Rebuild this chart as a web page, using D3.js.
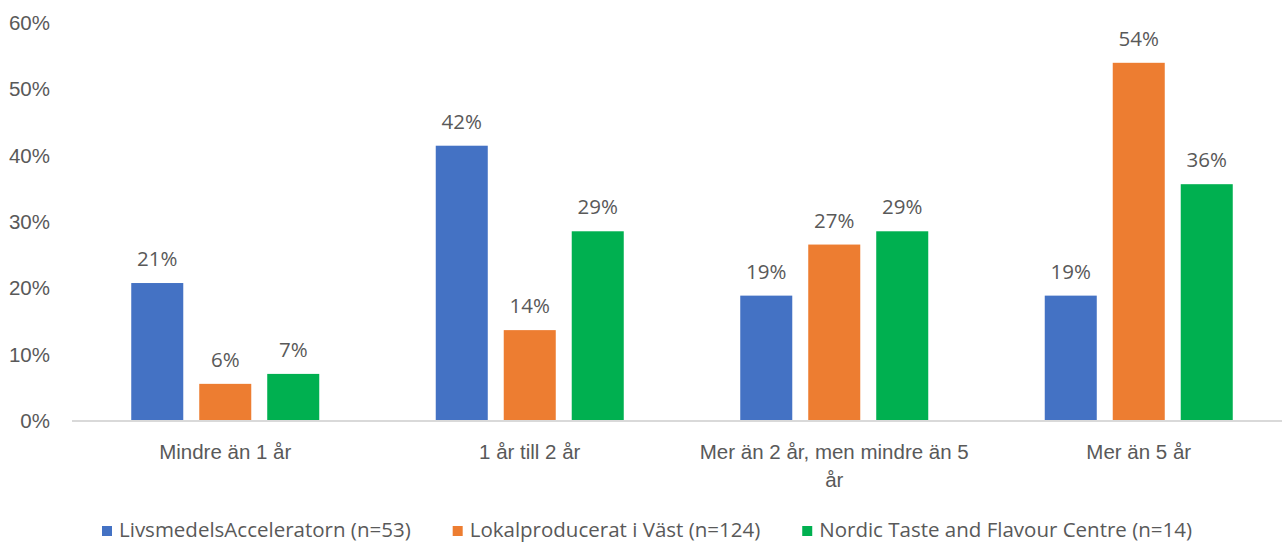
<!DOCTYPE html>
<html><head><meta charset="utf-8">
<script src="https://cdn.jsdelivr.net/npm/d3@7/dist/d3.min.js"></script>
<style>
body{margin:0;background:#fff;}
svg{display:block;font-family:"Open Sans",Lato,sans-serif;}
</style></head>
<body><svg id="c" width="1282" height="544"></svg>
<script>
const categories = ["Mindre än 1 år","1 år till 2 år","Mer än 2 år, men mindre än 5 år","Mer än 5 år"];
const seriesNames = ["LivsmedelsAcceleratorn (n=53)","Lokalproducerat i Väst (n=124)","Nordic Taste and Flavour Centre (n=14)"];
const seriesColors = ["#4472C4","#ED7D31","#00B050"];
const livsmedels = [0.208,0.415,0.189,0.189];
const lokal = [0.056,0.137,0.266,0.540];
const nordic = [0.071,0.286,0.286,0.357];
const yTicks = [0,0.1,0.2,0.3,0.4,0.5,0.6];

const series = [livsmedels, lokal, nordic];
const svg = d3.select("#c");
const textColor = "#595959";
const fs = 20.5;
const legFs = 20.5;

const x = d3.scaleBand().domain(categories).range([73,1291]).paddingInner(0).paddingOuter(0);
const xs = d3.scaleBand().domain(d3.range(3)).range([0,188]).paddingInner(0.235).paddingOuter(0);
const y = d3.scaleLinear().domain([0,0.6]).range([421,23]);

// y axis labels
const yAxis = d3.axisLeft(y).tickValues(yTicks).tickFormat(d3.format(".0%")).tickSize(0).tickPadding(0);
const ya = svg.append("g").attr("transform","translate(50,0)").call(yAxis);
ya.select(".domain").remove();
ya.selectAll("text").attr("fill",textColor).style("font-size",fs+"px").style("font-family","inherit");

// bars
const groups = svg.append("g").selectAll("g").data(categories).join("g")
  .attr("transform",d=>`translate(${x(d)+x.bandwidth()/2-94},0)`);
series.forEach((vals,si)=>{
  groups.append("rect")
    .attr("x",xs(si)).attr("width",xs.bandwidth())
    .attr("y",(d,i)=>y(vals[i])).attr("height",(d,i)=>y(0)-y(vals[i]))
    .attr("fill",seriesColors[si]);
  groups.append("text")
    .attr("x",xs(si)+xs.bandwidth()/2).attr("y",(d,i)=>y(vals[i])-17)
    .attr("text-anchor","middle").attr("fill",textColor).style("font-size",fs+"px")
    .text((d,i)=>d3.format(".0%")(vals[i]));
});

// x axis
const xAxis = d3.axisBottom(x).tickSize(0).tickPadding(0);
const xa = svg.append("g").attr("transform",`translate(0,${y(0)})`).call(xAxis);
xa.select(".domain").attr("stroke","#d9d9d9").attr("stroke-width",2).attr("d","M72,0H1291");
xa.selectAll(".tick text").attr("fill",textColor).style("font-size",fs+"px").style("font-family","inherit")
  .attr("y",38).attr("dy",0).each(function(d){
    const t = d3.select(this); const words = d.split(" "); t.text(null);
    let line=[], lineNo=0; let ts = t.append("tspan").attr("x",0).attr("y",38);
    for(const w of words){
      line.push(w); ts.text(line.join(" "));
      if(ts.node().getComputedTextLength()>285 && line.length>1){
        line.pop(); ts.text(line.join(" ")); line=[w]; lineNo++;
        ts = t.append("tspan").attr("x",0).attr("y",38+lineNo*28).text(w);
      }
    }
  });

// legend
const leg = svg.append("g");
let lx = 102;
seriesNames.forEach((n,i)=>{
  const g = leg.append("g").attr("transform",`translate(${lx},0)`);
  g.append("rect").attr("x",0).attr("y",526).attr("width",10).attr("height",10).attr("fill",seriesColors[i]);
  const t = g.append("text").attr("x",17).attr("y",537).attr("fill",textColor).style("font-size",legFs+"px").text(n);
  lx += 17 + t.node().getComputedTextLength() + 42;
});
</script></body></html>
